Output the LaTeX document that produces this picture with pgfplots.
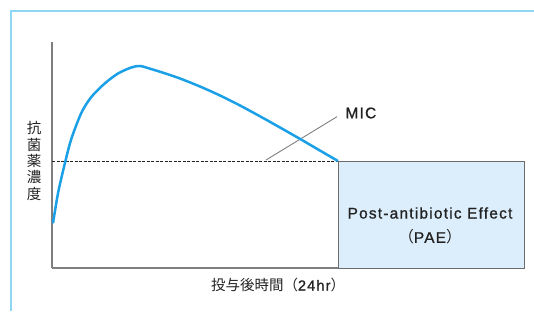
\documentclass[border=0pt]{standalone}
\usepackage{pgfplots}
\pgfplotsset{compat=1.18}
\usepackage{fontspec}
\setmainfont[LetterSpace=8, FakeBold=1]{Liberation Sans}
\newfontfamily\jp{Noto Sans CJK JP}
\definecolor{curveblue}{HTML}{1AA0E6}
\definecolor{framebl}{HTML}{8FD6F2}
\definecolor{boxfill}{HTML}{DCEDFB}
\definecolor{axgray}{HTML}{7F7F7F}
\definecolor{txt}{HTML}{222222}
\begin{document}
\begin{tikzpicture}
\begin{axis}[
  at={(0pt,0pt)}, anchor=south west,
  scale only axis, width=472pt, height=226pt,
  xmin=0, xmax=472, ymin=0, ymax=226,
  axis x line=bottom, axis y line=left,
  axis line style={-, axgray, line width=1.2pt},
  xtick=\empty, ytick=\empty,
  clip=false,
]
% frame lines
\addplot[framebl, line width=1.6pt] coordinates {(-41,-43) (-41,257) (482,257)};
% PAE box
\addplot[draw=axgray!85!black, line width=1pt, fill=boxfill] coordinates {(286,0) (286,107) (472,107) (472,0)} -- cycle;
% MIC line
\addplot[txt, line width=0.7pt, dash pattern=on 3pt off 1.5pt] coordinates {(0,107) (286,107)};
% leader line
\addplot[axgray, line width=0.9pt] coordinates {(214,108) (285,151.3)};
% concentration curve
\addplot[curveblue, line width=2.5pt, smooth] coordinates {
(1,44.7) (6,74.7) (12.7,104) (19.3,129) (29.3,155) (39.3,171) (52.7,184.5) (66,194.5) (79.3,200.5) (88,202)
(98,199.3) (111,195.3) (128,189.5) (148,181.5) (168,172.5) (188,162.5) (208,151.7) (228,140.5) (248.7,128.7) (267,118) (286,107)};
\node[anchor=west, text=txt, font=\fontsize{15.4}{18}\selectfont] at (axis cs:290,155) {MIC};
\node[text=txt, font=\fontsize{15.4}{18}\selectfont] at (axis cs:378,55) {Post-antibiotic Effect};
\node[text=txt, font=\fontsize{15.4}{18}\selectfont] at (axis cs:378,31) {{\jp （}PAE{\jp ）}};
\node[text=txt, align=center, font=\jp\fontsize{14.5}{16.4}\selectfont] at (axis cs:-18,107) {抗\\菌\\薬\\濃\\度};
\node[text=txt, font=\fontsize{14.5}{17}\selectfont] at (axis cs:226,-17) {{\jp 投与後時間（}24hr{\jp ）}};
\end{axis}
\pgfresetboundingbox
\path[use as bounding box] (-52pt,-43pt) rectangle (482pt,268pt);
\end{tikzpicture}
\end{document}
